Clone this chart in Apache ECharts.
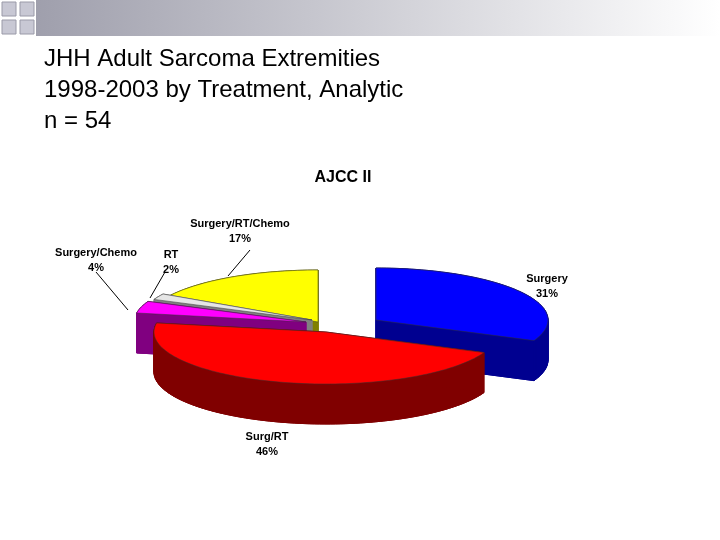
<!DOCTYPE html><html><head><meta charset="utf-8">
<script src="https://cdn.jsdelivr.net/npm/echarts@6/dist/echarts.min.js"></script>
<style>html,body{margin:0;background:#fff}#c{width:720px;height:540px}</style></head><body><div id="c"></div>
<script>
const categories=['Surgery','Surg/RT','Surgery/Chemo','RT','Surgery/RT/Chemo'];
const counts=[17,25,2,1,9];
const topColors=['#0000FF','#FF0000','#FF00FF','#E6E6E6','#FFFF00'];
const sideColors=['#000090','#800000','#800080','#808080','#808000'];
const explode=[[58,-2],[8,10],[-12,0],[-6,-2],[0,0]];
const labelPos=[[547,282],[267,440],[96,256],[171,258],[240,227]];
const total=counts.reduce((a,b)=>a+b,0);
const cx=318,cy=322,rx=172,ry=52,depth=40;
const starts=[];let acc=0;counts.forEach(v=>{starts.push(acc);acc+=v;});
function pt(t,ox,oy,dz){return [cx+ox+rx*Math.sin(t),cy+oy-ry*Math.cos(t)+dz];}
function renderItem(params,api){
  const i=params.dataIndex;
  const a0=starts[i]/total*2*Math.PI,a1=(starts[i]+api.value(0))/total*2*Math.PI;
  const [ox,oy]=explode[i];const n=Math.max(4,Math.ceil((a1-a0)/0.03));
  const top=[],bot=[];for(let k=0;k<=n;k++){const t=a0+(a1-a0)*k/n;top.push(pt(t,ox,oy,0));bot.push(pt(t,ox,oy,depth));}
  const c0=[cx+ox,cy+oy],c0b=[cx+ox,cy+oy+depth];
  const ch=[];const sc=sideColors[i];
  ch.push({type:'polygon',shape:{points:[c0b].concat(bot)},style:{fill:sc,stroke:sc}});
  for(let k=0;k<n;k++)ch.push({type:'polygon',shape:{points:[top[k],top[k+1],bot[k+1],bot[k]]},style:{fill:sc,stroke:sc,lineWidth:1}});
  ch.push({type:'polygon',shape:{points:[c0,top[0],bot[0],c0b]},style:{fill:sc,stroke:sc}});
  ch.push({type:'polygon',shape:{points:[c0,top[n],bot[n],c0b]},style:{fill:sc,stroke:sc}});
  ch.push({type:'polygon',shape:{points:[c0].concat(top)},style:{fill:topColors[i],stroke:'#333',lineWidth:0.5}});
  return {type:'group',children:ch};
}
const order=[4,3,2,0,1];
const graphics=[];
graphics.push({type:'rect',shape:{x:0,y:0,width:720,height:36},style:{fill:new echarts.graphic.LinearGradient(0,0,1,0,[{offset:0,color:'#9a9aa8'},{offset:1,color:'#ffffff'}])},z:-1});
graphics.push({type:'rect',shape:{x:0,y:0,width:36,height:36},style:{fill:'#fff'},z:0});
[[2,2],[20,2],[2,20],[20,20]].forEach(p=>graphics.push({type:'rect',shape:{x:p[0],y:p[1],width:14,height:14},style:{fill:'#c8c8d4',stroke:'#9a9aa8'},z:1}));
graphics.push({type:'text',left:44,top:44,style:{text:'JHH Adult Sarcoma Extremities\n1998-2003 by Treatment, Analytic\nn = 54',font:'24px "Liberation Sans"',fill:'#000',lineHeight:31}});
graphics.push({type:'text',x:343,y:170,style:{text:'AJCC II',font:'bold 16px "Liberation Sans"',fill:'#000',align:'center'}});
categories.forEach((c,i)=>{graphics.push({type:'text',x:labelPos[i][0],y:labelPos[i][1]-11,style:{text:c+'\n'+Math.round(counts[i]/total*100)+'%',font:'bold 11px "Liberation Sans"',fill:'#000',align:'center',lineHeight:15}});});
[[[96,272],[128,310]],[[165,272],[150,298]],[[250,250],[228,276]]].forEach(l=>graphics.push({type:'polyline',shape:{points:l},style:{stroke:'#000',lineWidth:1}}));
const chart=echarts.init(document.getElementById('c'));
chart.setOption({animation:false,
  series:[{type:'custom',coordinateSystem:'none',renderItem:function(p,api){return renderItem({dataIndex:order[p.dataIndex]},{value:()=>counts[order[p.dataIndex]]});},data:order.map(i=>[counts[i]])}],
  graphic:graphics});
</script></body></html>
